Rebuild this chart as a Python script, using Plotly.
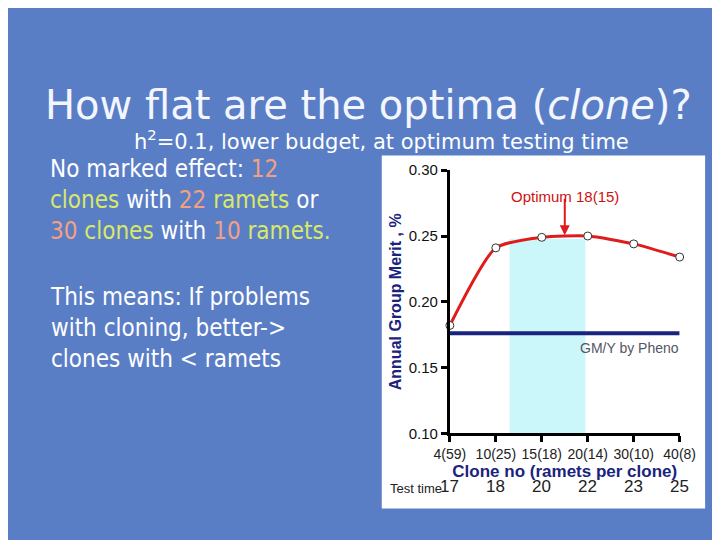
import plotly.graph_objects as go

# Data
tick_labels = ["4(59)", "10(25)", "15(18)", "20(14)", "30(10)", "40(8)"]
test_times = ["17", "18", "20", "22", "23", "25"]
group_merit = [0.182, 0.241, 0.249, 0.250, 0.244, 0.234]
pheno_level = 0.176
optimum_band = [1.3, 2.95]

x_idx = list(range(len(tick_labels)))

fig = go.Figure()

# optimum band
fig.add_shape(type="rect", xref="x", yref="y", x0=optimum_band[0], x1=optimum_band[1],
              y0=0.10, y1=0.248, fillcolor="#ccf7fa", line_width=0, layer="below")

fig.add_trace(go.Scatter(x=[0, 5], y=[pheno_level] * 2, mode="lines",
                         line=dict(color="#1a237e", width=4), showlegend=False))
fig.add_trace(go.Scatter(x=x_idx, y=group_merit, mode="lines",
                         line=dict(color="#e01b1b", width=3, shape="spline", smoothing=0.6),
                         showlegend=False))
fig.add_trace(go.Scatter(x=x_idx, y=group_merit, mode="markers", cliponaxis=False,
                         marker=dict(color="white", size=8, line=dict(color="#333", width=1)),
                         showlegend=False))

fig.add_annotation(x=2.5, y=0.2505, ax=0, ay=-38, text="", showarrow=True,
                   arrowhead=2, arrowcolor="#e01b1b", arrowwidth=2)
fig.add_annotation(x=2.5, y=0.280, text="Optimum 18(15)", showarrow=False,
                   font=dict(color="#d01010", size=15, family="Liberation Sans"))
fig.add_annotation(x=3.9, y=0.165, text="GM/Y by Pheno", showarrow=False,
                   font=dict(color="#556", size=14, family="Liberation Sans"))

# test time row
fig.add_annotation(xref="paper", yref="paper", x=0.61, y=0.08, text="Test time",
                   showarrow=False, xanchor="right",
                   font=dict(size=13, color="#222", family="Liberation Sans"))
for i, t in enumerate(test_times):
    fig.add_annotation(xref="x", yref="paper", x=i, y=0.08, text=t, showarrow=False,
                       font=dict(size=17, color="#222", family="Liberation Sans"))

# slide background panel
fig.add_shape(type="rect", xref="paper", yref="paper", x0=0.52, x1=0.99, y0=0.06, y1=0.735,
              fillcolor="white", line_width=0, layer="below")

fig.add_annotation(xref="paper", yref="paper", x=0.5, y=0.88,
                   text="How flat are the optima (<i>clone</i>)?", showarrow=False,
                   font=dict(size=40, color="#f4f6ff", family="DejaVu Sans"))
fig.add_annotation(xref="paper", yref="paper", x=0.52, y=0.795,
                   text="h<sup>2</sup>=0.1, lower budget, at optimum testing time", showarrow=False,
                   font=dict(size=21, color="white", family="DejaVu Sans"))
hl_o = "<span style='color:#f4a080'>%s</span>"
hl_g = "<span style='color:#d8e868'>%s</span>"
fig.add_annotation(xref="paper", yref="paper", x=0.035, y=0.74, xanchor="left", yanchor="top",
                   align="left", showarrow=False,
                   text=("No marked effect: " + hl_o % "12" + "<br>" + hl_g % "clones" + " with "
                         + hl_o % "22" + " " + hl_g % "ramets" + " or<br>" + hl_o % "30" + " "
                         + hl_g % "clones" + " with " + hl_o % "10" + " " + hl_g % "ramets."),
                   font=dict(size=24, color="white", family="DejaVu Sans Condensed"))
fig.add_annotation(xref="paper", yref="paper", x=0.035, y=0.495, xanchor="left", yanchor="top",
                   align="left", showarrow=False,
                   text="This means: If problems<br>with cloning, better-><br>clones with < ramets",
                   font=dict(size=24, color="white", family="DejaVu Sans Condensed"))

fig.update_xaxes(range=[0, 5], tickvals=x_idx, ticktext=tick_labels, showgrid=False,
                 showline=True, linecolor="black", linewidth=3, ticks="outside", ticklen=6,
                 tickwidth=3, tickcolor="black", domain=[0.619, 0.953], zeroline=False,
                 tickfont=dict(size=14, color="#222", family="Liberation Sans"),
                 title=dict(text="<b>Clone no (ramets per clone)</b>", standoff=4,
                            font=dict(size=17, color="#1a237e", family="Liberation Sans")))
fig.update_yaxes(range=[0.10, 0.30], dtick=0.05, tickformat=".2f", showgrid=False,
                 showline=True, linecolor="black", linewidth=3, ticks="outside", ticklen=6,
                 tickwidth=3, tickcolor="black", domain=[0.204, 0.707], zeroline=False,
                 tickfont=dict(size=15, color="#111", family="Liberation Sans"),
                 title=dict(text="<b>Annual Group Merit , %</b>", standoff=4,
                            font=dict(size=16, color="#1a237e", family="Liberation Sans")))

fig.update_layout(width=720, height=540, margin=dict(l=0, r=0, t=0, b=0),
                  paper_bgcolor="#5a7ec6", plot_bgcolor="rgba(0,0,0,0)")

fig.write_html("out.html")
